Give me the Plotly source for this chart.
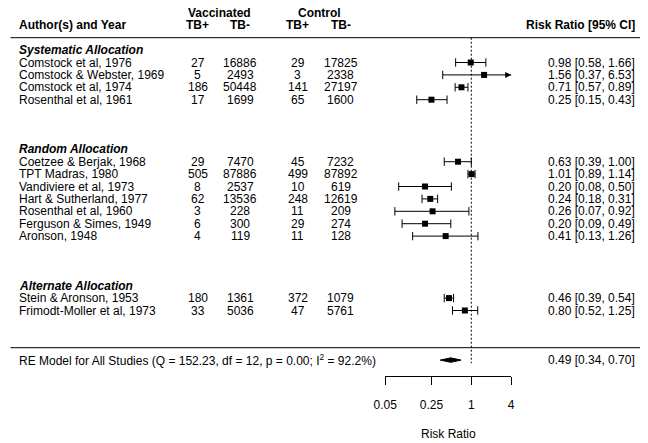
import math
import plotly.graph_objects as go

# ---------------- data ----------------
authors = ["Comstock et al, 1976", "Comstock & Webster, 1969", "Comstock et al, 1974",
           "Rosenthal et al, 1961", "Coetzee & Berjak, 1968", "TPT Madras, 1980",
           "Vandiviere et al, 1973", "Hart & Sutherland, 1977", "Rosenthal et al, 1960",
           "Ferguson & Simes, 1949", "Aronson, 1948", "Stein & Aronson, 1953",
           "Frimodt-Moller et al, 1973"]
group_names = ["Systematic Allocation", "Random Allocation", "Alternate Allocation"]
group_sizes = [4, 7, 2]
tpos = [27, 5, 186, 17, 29, 505, 8, 62, 3, 6, 4, 180, 33]
tneg = [16886, 2493, 50448, 1699, 7470, 87886, 2537, 13536, 228, 300, 119, 1361, 5036]
cpos = [29, 3, 141, 65, 45, 499, 10, 248, 11, 29, 11, 372, 47]
cneg = [17825, 2338, 27197, 1600, 7232, 87892, 619, 12619, 209, 274, 128, 1079, 5761]
rr = [0.98, 1.56, 0.71, 0.25, 0.63, 1.01, 0.20, 0.24, 0.26, 0.20, 0.41, 0.46, 0.80]
rr_lo = [0.58, 0.37, 0.57, 0.15, 0.39, 0.89, 0.08, 0.18, 0.07, 0.09, 0.13, 0.39, 0.52]
rr_hi = [1.66, 6.53, 0.89, 0.43, 1.00, 1.14, 0.50, 0.31, 0.92, 0.49, 1.26, 0.54, 1.25]
re_est, re_lo, re_hi = 0.49, 0.34, 0.70
re_Q, re_df, re_p, re_I2 = 152.23, 12, 0.00, 92.2
tick_vals = [0.05, 0.25, 1, 4]
tick_labels = ["0.05", "0.25", "1", "4"]
col_headers = ["TB+", "TB-", "TB+", "TB-"]
arm_headers = ["Vaccinated", "Control"]

# ---------------- layout geometry (in window pixels) ----------------
WIN_W, WIN_H = 648, 443
OFF = 8                                   # page body margin
W, H = WIN_W - OFF, WIN_H - OFF           # figure size
PX_ONE, PX_PER_LN = 471.3, 28.75          # window pixel of RR=1, pixels per ln unit
ROW_REF, PY_REF, PX_PER_ROW = 23, 62.5, 12.4
LN10 = math.log(10)
x_range = [(OFF - PX_ONE) / PX_PER_LN / LN10, (WIN_W - PX_ONE) / PX_PER_LN / LN10]
y_range = [ROW_REF - (WIN_H - PY_REF) / PX_PER_ROW, ROW_REF + (PY_REF - OFF) / PX_PER_ROW]
alim = (tick_vals[0], tick_vals[-1])

def paper_x(px):
    return (px - OFF) / W

def paper_y(py):
    return (WIN_H - py) / H

def px_of(val):
    return PX_ONE + PX_PER_LN * math.log(val)

group_rows = [24, 16, 5]
rows = []
for gr, n in zip(group_rows, group_sizes):
    rows += [gr - 1 - i for i in range(n)]
header_row, arm_row, top_line_row, bottom_line_row, re_row = 26, 27, 25, 0, -1

FONT = "Arial, 'Liberation Sans', sans-serif"
fs = 12

fig = go.Figure()

# CI lines (clipped to axis limits)
lx, ly, cap_x, cap_y, arr_x, arr_y = [], [], [], [], [], []
for r, l, h in zip(rows, rr_lo, rr_hi):
    l2, h2 = max(l, alim[0]), min(h, alim[1])
    lx += [l2, h2, None]
    ly += [r, r, None]
    if l >= alim[0]:
        cap_x.append(l); cap_y.append(r)
    if h <= alim[1]:
        cap_x.append(h); cap_y.append(r)
    else:
        arr_x.append(h2); arr_y.append(r)

fig.add_trace(go.Scatter(x=lx, y=ly, mode="lines", line=dict(color="black", width=1),
                         hoverinfo="skip"))
fig.add_trace(go.Scatter(x=cap_x, y=cap_y, mode="markers",
                         marker=dict(symbol="line-ns", size=6, line=dict(color="black", width=1)),
                         hoverinfo="skip"))
fig.add_trace(go.Scatter(x=arr_x, y=arr_y, mode="markers",
                         marker=dict(symbol="arrow-right", size=6, color="black",
                                     line=dict(width=0)),
                         hoverinfo="skip"))
fig.add_trace(go.Scatter(x=rr, y=rows, mode="markers",
                         marker=dict(symbol="square", size=6, color="black", line=dict(width=0)),
                         hoverinfo="skip"))

# reference line
fig.add_trace(go.Scatter(x=[1, 1], y=[top_line_row, re_row - 0.25], mode="lines",
                         line=dict(color="black", width=1, dash="2px,2px"), hoverinfo="skip"))

# summary diamond
dh = 0.18
fig.add_trace(go.Scatter(x=[re_lo, re_est, re_hi, re_est, re_lo],
                         y=[re_row, re_row + dh, re_row, re_row - dh, re_row],
                         mode="lines", fill="toself", fillcolor="black",
                         line=dict(color="black", width=1), hoverinfo="skip"))

# invisible trace so the bottom axis gets drawn
fig.add_trace(go.Scatter(x=[1], y=[re_row], xaxis="x2", yaxis="y", mode="markers",
                         marker=dict(opacity=0), hoverinfo="skip"))

ann = []
def text(px, row, s, anchor="left"):
    ann.append(dict(x=paper_x(px), xref="paper", y=row, yref="y", text=s, showarrow=False,
                    xanchor=anchor, yanchor="middle",
                    font=dict(family=FONT, size=fs, color="black")))

LEFT_PX = 17
col_px = [197.5, 240, 297.5, 340.7]
arm_px = [219, 319.3]
RIGHT_PX = 637

text(LEFT_PX, header_row, "<b>Author(s) and Year</b>")
text(RIGHT_PX, header_row, "<b>Risk Ratio [95% CI]</b>", anchor="right")
for cp, lab in zip(col_px, col_headers):
    text(cp, header_row, f"<b>{lab}</b>", anchor="center")
for ap, lab in zip(arm_px, arm_headers):
    text(ap, arm_row, f"<b>{lab}</b>", anchor="center")
for gr, gname in zip(group_rows, group_names):
    text(LEFT_PX, gr, f"<b><i>{gname}</i></b>")
for i, r in enumerate(rows):
    text(LEFT_PX, r, authors[i])
    for cp, v in zip(col_px, [tpos[i], tneg[i], cpos[i], cneg[i]]):
        text(cp, r, str(v), anchor="center")
    text(RIGHT_PX, r, f"{rr[i]:.2f} [{rr_lo[i]:.2f}, {rr_hi[i]:.2f}]", anchor="right")

text(LEFT_PX, re_row,
     f"RE Model for All Studies (Q = {re_Q:.2f}, df = {re_df}, p = {re_p:.2f}; "
     f"I<sup>2</sup> = {re_I2:.1f}%)")
text(RIGHT_PX, re_row, f"{re_est:.2f} [{re_lo:.2f}, {re_hi:.2f}]", anchor="right")

# axis title
ax_mid = (px_of(alim[0]) + px_of(alim[1])) / 2
ann.append(dict(x=paper_x(ax_mid), xref="paper", y=paper_y(434), yref="paper",
                text="Risk Ratio", showarrow=False, xanchor="center", yanchor="middle",
                font=dict(family=FONT, size=fs, color="black")))

shapes = []
for r in [top_line_row, bottom_line_row]:
    shapes.append(dict(type="line", xref="paper", yref="y", x0=paper_x(10.5), x1=paper_x(645.5),
                       y0=r, y1=r, line=dict(color="black", width=1)))

axis_py = 375.7
fig.update_layout(
    template="none",
    width=W, height=H, margin=dict(l=0, r=0, t=0, b=0, pad=0), autosize=False,
    paper_bgcolor="white", plot_bgcolor="rgba(0,0,0,0)", showlegend=False,
    xaxis=dict(type="log", range=x_range, domain=[0, 1], visible=False, fixedrange=True,
               automargin=False),
    yaxis=dict(range=y_range, domain=[0, 1], visible=False, fixedrange=True,
               automargin=False),
    xaxis2=dict(type="log", range=[math.log10(alim[0]), math.log10(alim[1])],
                domain=[paper_x(px_of(alim[0])), paper_x(px_of(alim[1]))],
                anchor="free", position=paper_y(axis_py), side="bottom", automargin=False,
                showline=True, linecolor="black", linewidth=1,
                ticks="outside", ticklen=8, tickwidth=1, tickcolor="black",
                tickvals=tick_vals, ticktext=tick_labels, ticklabelstandoff=10,
                tickfont=dict(family=FONT, size=fs, color="black"),
                showgrid=False, zeroline=False, fixedrange=True),
    annotations=ann, shapes=shapes,
)

fig.write_html("out.html")
